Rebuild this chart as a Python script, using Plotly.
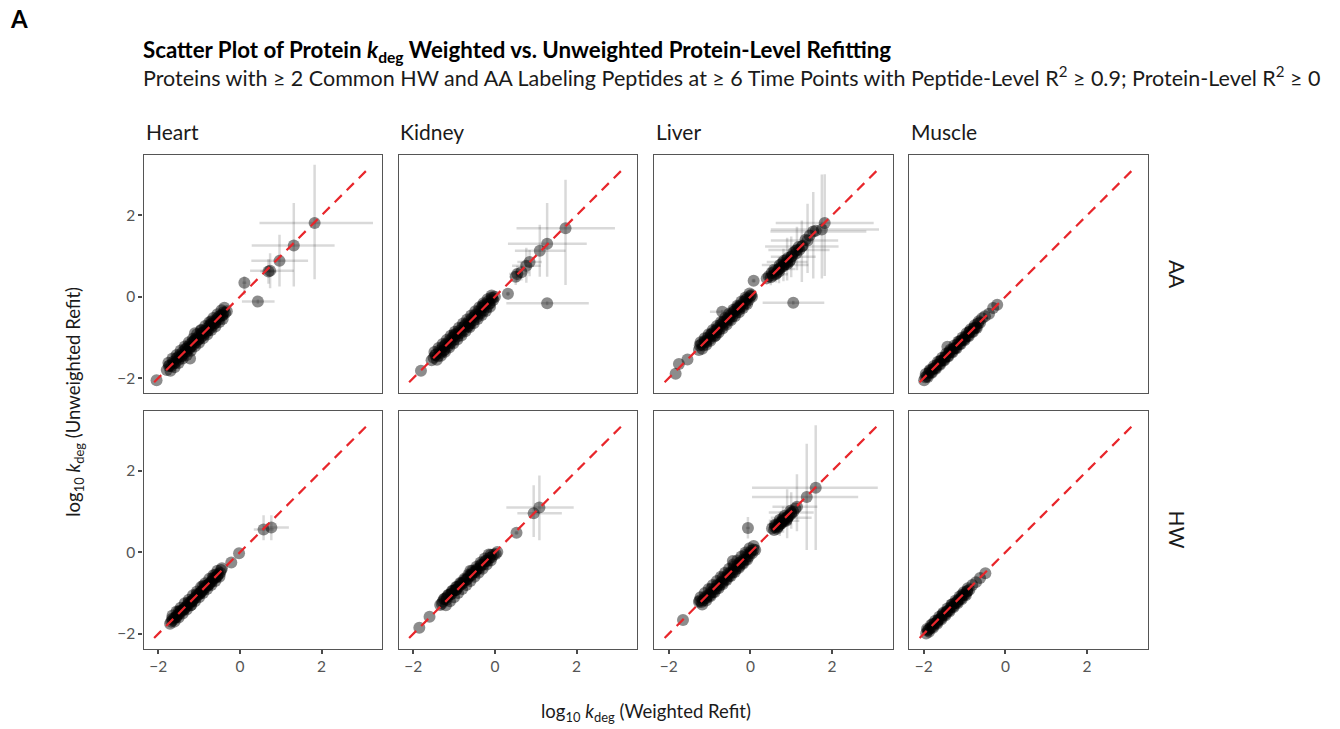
import plotly.graph_objects as go

organs = ["Heart", "Kidney", "Liver", "Muscle"]
labelings = ["AA", "HW"]
tick_vals = [-2, 0, 2]
axis_range = [-2.36, 3.48]
ref_line = [-2.1, 3.12]

# ---------------- Heart / AA ----------------
heart_aa_ox = [1.83, 1.32, 0.97, 0.74, 0.70, 0.11, 0.44]
heart_aa_oy = [1.81, 1.26, 0.88, 0.64, 0.62, 0.34, -0.12]
heart_aa_xm = [1.35, 1.03, 0.69, 0.49, 0.20, 0.05, 0.39]
heart_aa_xp = [1.43, 1.00, 0.70, 0.58, 0.20, 0.05, 0.41]
heart_aa_ym = [1.38, 1.01, 0.63, 0.43, 0.30, 0.29, 0.05]
heart_aa_yp = [1.43, 1.04, 0.64, 0.43, 0.30, 0.16, 0.05]
heart_aa_cx = [-2.04, -1.79, -1.74, -1.68, -1.63, -1.58, -1.55, -1.50, -1.47, -1.43, -1.40, -1.36, -1.33, -1.30,
               -1.27, -1.24, -1.22, -1.19, -1.16, -1.13, -1.10, -1.08, -1.05, -1.02, -0.99, -0.96, -0.93, -0.90,
               -0.87, -0.84, -0.81, -0.78, -0.75, -0.72, -0.69, -0.66, -0.63, -0.60, -0.56, -0.52, -0.48, -0.44,
               -0.40, -0.36, -0.32, -1.22, -1.10, -0.95, -0.70,
               -1.75, -1.65, -1.55, -1.45, -1.35, -1.25, -1.15, -1.05, -0.95, -0.85, -0.75, -0.65, -0.55, -0.45,
               -0.38, -1.70, -1.60, -1.50, -1.40, -1.30, -1.20, -1.10, -1.00, -0.90, -0.80, -0.70, -0.60, -0.50,
               -0.42,
               -1.72, -1.62, -1.52, -1.42, -1.32, -1.22, -1.12, -1.02, -0.92, -0.82, -0.72, -0.62, -0.52, -0.42]
heart_aa_cy = [-2.05, -1.80, -1.70, -1.71, -1.60, -1.62, -1.52, -1.55, -1.43, -1.47, -1.36, -1.39, -1.28, -1.34,
               -1.23, -1.28, -1.17, -1.22, -1.12, -1.17, -1.06, -1.12, -1.01, -1.06, -0.95, -1.00, -0.89, -0.95,
               -0.84, -0.89, -0.78, -0.83, -0.72, -0.77, -0.66, -0.70, -0.60, -0.64, -0.54, -0.56, -0.46, -0.47,
               -0.38, -0.40, -0.36, -1.52, -0.90, -0.82, -0.60,
               -1.62, -1.52, -1.43, -1.32, -1.22, -1.12, -1.03, -0.92, -0.83, -0.72, -0.63, -0.52, -0.43, -0.33,
               -0.27, -1.82, -1.73, -1.63, -1.52, -1.43, -1.33, -1.22, -1.13, -1.02, -0.93, -0.82, -0.73, -0.62,
               -0.55,
               -1.69, -1.64, -1.49, -1.45, -1.29, -1.25, -1.09, -1.05, -0.89, -0.85, -0.69, -0.65, -0.49, -0.45]

# ---------------- Heart / HW ----------------
heart_hw_ox = [0.58, 0.77]
heart_hw_oy = [0.56, 0.61]
heart_hw_xm = [0.24, 0.20]
heart_hw_xp = [0.25, 0.43]
heart_hw_ym = [0.26, 0.31]
heart_hw_yp = [0.35, 0.30]
heart_hw_cx = [-0.02, -0.21, -0.44, -0.48, -0.52, -0.56, -0.60, -0.64, -0.68, -0.72, -0.76, -0.80, -0.84, -0.88,
               -0.92, -0.96, -1.00, -1.04, -1.08, -1.12, -1.16, -1.20, -1.24, -1.28, -1.32, -1.36, -1.40, -1.44,
               -1.48, -1.52, -1.56, -1.60, -1.64, -1.68, -1.71, -0.90, -1.20, -0.60, -1.50,
               -1.65, -1.55, -1.45, -1.35, -1.25, -1.15, -1.05, -0.95, -0.85, -0.75, -0.65, -0.55,
               -1.60, -1.50, -1.40, -1.30, -1.20, -1.10, -1.00, -0.90, -0.80, -0.70, -0.60, -0.50,
               -1.66, -1.56, -1.46, -1.36, -1.26, -1.16, -1.06, -0.96, -0.86, -0.76, -0.66, -0.56, -0.46]
heart_hw_cy = [-0.02, -0.25, -0.39, -0.50, -0.53, -0.58, -0.62, -0.65, -0.70, -0.73, -0.78, -0.81, -0.86, -0.89,
               -0.94, -0.97, -1.02, -1.05, -1.10, -1.13, -1.18, -1.21, -1.26, -1.29, -1.34, -1.37, -1.42, -1.45,
               -1.50, -1.53, -1.58, -1.61, -1.66, -1.70, -1.75, -0.82, -1.30, -0.55, -1.45,
               -1.55, -1.45, -1.36, -1.25, -1.16, -1.05, -0.96, -0.85, -0.76, -0.65, -0.56, -0.45,
               -1.70, -1.60, -1.50, -1.40, -1.30, -1.20, -1.10, -1.00, -0.90, -0.80, -0.70, -0.60,
               -1.63, -1.59, -1.43, -1.39, -1.23, -1.19, -1.03, -0.99, -0.83, -0.79, -0.63, -0.59, -0.43]

# ---------------- Kidney / AA ----------------
kidney_aa_ox = [1.73, 1.28, 1.10, 0.77, 0.85, 0.65, 0.51, 0.55, 0.32, 1.28]
kidney_aa_oy = [1.68, 1.30, 1.13, 0.76, 0.85, 0.60, 0.49, 0.56, 0.07, -0.16]
kidney_aa_xm = [1.20, 0.96, 0.61, 0.35, 0.30, 0.20, 0.15, 0.20, 0.05, 1.00]
kidney_aa_xp = [1.21, 0.97, 0.63, 0.35, 0.30, 0.20, 0.15, 0.20, 0.05, 1.02]
kidney_aa_ym = [1.39, 0.81, 0.64, 0.42, 0.35, 0.20, 0.20, 0.20, 0.05, 0.05]
kidney_aa_yp = [1.19, 1.00, 0.64, 0.44, 0.30, 0.25, 0.20, 0.20, 0.05, 0.05]
kidney_aa_cx = [0.00, -0.04, -0.08, -0.12, -0.16, -0.20, -0.24, -0.28, -0.32, -0.36, -0.40, -0.44, -0.48, -0.52,
                -0.56, -0.60, -0.64, -0.68, -0.72, -0.76, -0.80, -0.84, -0.88, -0.92, -0.96, -1.00, -1.04, -1.08,
                -1.12, -1.16, -1.20, -1.24, -1.28, -1.32, -1.36, -1.40, -1.45, -1.50, -1.55, -1.81, -0.30, -0.65,
                -1.00, -1.25,
                -1.48, -1.38, -1.28, -1.18, -1.08, -0.98, -0.88, -0.78, -0.68, -0.58, -0.48, -0.38, -0.28, -0.18,
                -0.08, -1.42, -1.32, -1.22, -1.12, -1.02, -0.92, -0.82, -0.72, -0.62, -0.52, -0.42, -0.32, -0.22,
                -0.12,
                -1.46, -1.34, -1.22, -1.10, -0.98, -0.86, -0.74, -0.62, -0.50, -0.38, -0.26, -0.14, -0.06]
kidney_aa_cy = [0.00, -0.08, -0.02, -0.17, -0.11, -0.26, -0.19, -0.34, -0.28, -0.42, -0.36, -0.50, -0.44, -0.58,
                -0.52, -0.66, -0.60, -0.74, -0.68, -0.82, -0.76, -0.90, -0.84, -0.98, -0.92, -1.06, -1.00, -1.14,
                -1.08, -1.22, -1.16, -1.30, -1.24, -1.38, -1.32, -1.46, -1.42, -1.50, -1.56, -1.82, -0.22, -0.72,
                -0.93, -1.32,
                -1.36, -1.26, -1.16, -1.06, -0.96, -0.86, -0.76, -0.66, -0.56, -0.46, -0.36, -0.26, -0.16, -0.06,
                0.03, -1.55, -1.45, -1.35, -1.25, -1.15, -1.05, -0.95, -0.85, -0.75, -0.65, -0.55, -0.45, -0.35,
                -0.25,
                -1.44, -1.36, -1.20, -1.12, -0.96, -0.88, -0.72, -0.64, -0.48, -0.40, -0.24, -0.16, -0.04]

# ---------------- Kidney / HW ----------------
kidney_hw_ox = [1.09, 0.95, 0.53]
kidney_hw_oy = [1.10, 0.96, 0.48]
kidney_hw_xm = [0.81, 0.40, 0.05]
kidney_hw_xp = [0.84, 0.69, 0.05]
kidney_hw_ym = [0.80, 0.58, 0.05]
kidney_hw_yp = [0.79, 0.69, 0.05]
kidney_hw_cx = [0.06, 0.02, -0.03, -0.08, -0.13, -0.18, -0.23, -0.28, -0.33, -0.38, -0.43, -0.48, -0.53, -0.58,
                -0.63, -0.68, -0.73, -0.78, -0.83, -0.88, -0.93, -0.98, -1.03, -1.08, -1.13, -1.18, -1.23, -1.28,
                -1.34, -1.60, -1.85, -0.60, -0.95,
                -1.25, -1.15, -1.05, -0.95, -0.85, -0.75, -0.65, -0.55, -0.45, -0.35, -0.25, -0.15,
                -1.20, -1.10, -1.00, -0.90, -0.80, -0.70, -0.60, -0.50, -0.40, -0.30, -0.20, -0.10,
                -1.30, -1.18, -1.06, -0.94, -0.82, -0.70, -0.58, -0.46, -0.34, -0.22, -0.10]
kidney_hw_cy = [0.01, -0.04, -0.05, -0.12, -0.13, -0.21, -0.22, -0.30, -0.31, -0.39, -0.40, -0.48, -0.49, -0.57,
                -0.58, -0.66, -0.67, -0.75, -0.76, -0.84, -0.85, -0.93, -0.94, -1.02, -1.04, -1.11, -1.14, -1.21,
                -1.29, -1.58, -1.85, -0.45, -0.92,
                -1.15, -1.05, -0.95, -0.85, -0.75, -0.65, -0.55, -0.45, -0.35, -0.25, -0.15, -0.05,
                -1.30, -1.20, -1.10, -1.00, -0.90, -0.80, -0.70, -0.60, -0.50, -0.40, -0.30, -0.20,
                -1.26, -1.16, -1.02, -0.92, -0.78, -0.68, -0.54, -0.44, -0.30, -0.20, -0.06]

# ---------------- Liver / AA ----------------
liver_aa_ox = [1.82, 1.75, 1.54, 1.40, 1.26, 1.14, 1.00, 0.90, 0.81, 0.70, 0.62, 0.50, 1.05, 0.08, -0.69]
liver_aa_oy = [1.81, 1.65, 1.60, 1.38, 1.23, 1.15, 0.98, 0.85, 0.78, 0.68, 0.55, 0.48, -0.15, 0.39, -0.37]
liver_aa_xm = [1.20, 1.25, 1.05, 0.90, 0.90, 0.70, 0.50, 0.50, 0.53, 0.30, 0.25, 0.15, 0.75, 0.05, 0.30]
liver_aa_xp = [1.20, 1.40, 1.30, 0.75, 0.90, 0.80, 0.60, 0.50, 0.61, 0.40, 0.30, 0.20, 0.76, 0.05, 0.40]
liver_aa_ym = [1.30, 1.20, 1.15, 0.80, 0.87, 0.50, 0.50, 0.45, 0.40, 0.35, 0.20, 0.20, 0.05, 0.05, 0.05]
liver_aa_yp = [1.20, 1.35, 0.97, 0.90, 0.64, 0.57, 0.50, 0.60, 0.40, 0.30, 0.30, 0.20, 0.05, 0.05, 0.05]
liver_aa_cx = [0.04, 0.00, -0.04, -0.08, -0.12, -0.16, -0.20, -0.24, -0.28, -0.32, -0.36, -0.40, -0.44, -0.48,
               -0.52, -0.56, -0.60, -0.64, -0.68, -0.72, -0.76, -0.80, -0.84, -0.88, -0.92, -0.96, -1.00, -1.04,
               -1.08, -1.12, -1.16, -1.20, -1.26, -1.54, -1.75, -1.83, -0.30, -0.85,
               0.45, 0.55, 0.60, 0.68, 0.75, 0.78, 0.85, 0.92, 0.98, 1.05, 1.12, 1.18, 1.28, 1.35, 1.60,
               -1.22, -1.12, -1.02, -0.92, -0.82, -0.72, -0.62, -0.52, -0.42, -0.32, -0.22, -0.12, -0.02,
               -1.18, -1.08, -0.98, -0.88, -0.78, -0.68, -0.58, -0.48, -0.38, -0.28, -0.18, -0.08,
               0.40, 0.52, 0.64, 0.72, 0.80, 0.88, 0.95, 1.02, 1.10, 0.70, 0.82, 0.90, 1.20, 0.58, 1.45,
               -1.24, -1.10, -0.96, -0.82, -0.68, -0.54, -0.40, -0.26, -0.12, 0.02]
liver_aa_cy = [0.00, 0.02, -0.08, -0.05, -0.16, -0.13, -0.24, -0.21, -0.32, -0.29, -0.40, -0.37, -0.48, -0.45,
               -0.56, -0.53, -0.64, -0.61, -0.72, -0.69, -0.80, -0.77, -0.88, -0.85, -0.96, -0.93, -1.04, -1.01,
               -1.12, -1.09, -1.20, -1.17, -1.31, -1.54, -1.65, -1.89, -0.25, -0.95,
               0.50, 0.52, 0.63, 0.66, 0.72, 0.82, 0.80, 0.95, 0.90, 1.08, 1.06, 1.22, 1.25, 1.40, 1.62,
               -1.12, -1.02, -0.92, -0.82, -0.72, -0.62, -0.52, -0.42, -0.32, -0.22, -0.12, -0.02, 0.08,
               -1.28, -1.18, -1.08, -0.98, -0.88, -0.78, -0.68, -0.58, -0.48, -0.38, -0.28, -0.18,
               0.45, 0.58, 0.58, 0.78, 0.74, 0.90, 0.86, 1.00, 1.12, 0.62, 0.88, 0.80, 1.15, 0.66, 1.50,
               -1.20, -1.10, -0.92, -0.82, -0.64, -0.54, -0.36, -0.26, -0.08, 0.04]

# ---------------- Liver / HW ----------------
liver_hw_ox = [1.60, 1.38, 1.14, 1.00, 0.90, 0.80, 0.72, 0.60, -0.06]
liver_hw_oy = [1.59, 1.36, 1.12, 0.98, 0.85, 0.78, 0.70, 0.62, 0.60]
liver_hw_xm = [1.56, 1.34, 0.60, 0.55, 0.40, 0.35, 0.30, 0.15, 0.05]
liver_hw_xp = [1.52, 1.26, 0.50, 0.55, 0.60, 0.40, 0.30, 0.15, 0.05]
liver_hw_ym = [1.53, 1.30, 0.60, 0.40, 0.50, 0.30, 0.30, 0.15, 0.26]
liver_hw_yp = [1.53, 1.31, 0.80, 0.50, 0.70, 0.35, 0.30, 0.15, 0.27]
liver_hw_cx = [0.12, 0.08, 0.04, 0.00, -0.04, -0.08, -0.12, -0.16, -0.20, -0.24, -0.28, -0.32, -0.36, -0.40,
               -0.44, -0.48, -0.52, -0.56, -0.60, -0.64, -0.68, -0.72, -0.76, -0.80, -0.84, -0.88, -0.92, -0.96,
               -1.00, -1.04, -1.08, -1.12, -1.16, -1.20, -1.26, -1.65, -0.43,
               0.53, 0.58, 0.62, 0.66, 0.70, 0.74, 0.78, 0.82, 0.86, 0.90, 0.95, 1.00, 1.05, 1.10,
               -1.22, -1.12, -1.02, -0.92, -0.82, -0.72, -0.62, -0.52, -0.42, -0.32, -0.22, -0.12, -0.02, 0.08,
               -1.18, -1.08, -0.98, -0.88, -0.78, -0.68, -0.58, -0.48, -0.38, -0.28, -0.18, -0.08,
               0.60, 0.68, 0.76, 0.84, 0.92, 0.98, 0.72, 0.80, 0.88, 0.65,
               -1.24, -1.10, -0.96, -0.82, -0.68, -0.54, -0.40, -0.26, -0.12, 0.02]
liver_hw_cy = [0.06, 0.07, -0.02, -0.01, -0.10, -0.09, -0.18, -0.17, -0.26, -0.25, -0.34, -0.33, -0.42, -0.41,
               -0.50, -0.49, -0.58, -0.57, -0.66, -0.65, -0.74, -0.73, -0.82, -0.81, -0.90, -0.89, -0.98, -0.97,
               -1.06, -1.05, -1.12, -1.13, -1.18, -1.22, -1.21, -1.66, -0.21,
               0.59, 0.55, 0.66, 0.62, 0.72, 0.70, 0.78, 0.76, 0.84, 0.82, 0.90, 0.95, 1.00, 1.08,
               -1.10, -1.00, -0.90, -0.80, -0.70, -0.60, -0.50, -0.40, -0.30, -0.20, -0.10, 0.00, 0.10, 0.16,
               -1.28, -1.18, -1.08, -0.98, -0.88, -0.78, -0.68, -0.58, -0.48, -0.38, -0.28, -0.18,
               0.68, 0.64, 0.72, 0.90, 0.88, 1.02, 0.80, 0.84, 0.78, 0.58,
               -1.18, -1.08, -0.90, -0.80, -0.62, -0.52, -0.34, -0.24, -0.06, 0.04]

# ---------------- Muscle / AA ----------------
muscle_aa_ox = []
muscle_aa_oy = []
muscle_aa_xm = []
muscle_aa_xp = []
muscle_aa_ym = []
muscle_aa_yp = []
muscle_aa_cx = [-0.20, -0.30, -0.40, -0.50, -0.57, -0.62, -0.67, -0.72, -0.77, -0.82, -0.87, -0.92, -0.97, -1.02,
                -1.07, -1.12, -1.17, -1.22, -1.27, -1.32, -1.37, -1.42, -1.47, -1.52, -1.57, -1.62, -1.67, -1.72,
                -1.77, -1.82, -1.87, -1.92, -1.99, -1.42,
                -1.95, -1.85, -1.75, -1.65, -1.55, -1.45, -1.35, -1.25, -1.15, -1.05, -0.95, -0.85, -0.75, -0.65,
                -1.90, -1.80, -1.70, -1.60, -1.50, -1.40, -1.30, -1.20, -1.10, -1.00, -0.90, -0.80, -0.70,
                -1.96, -1.84, -1.72, -1.60, -1.48, -1.36, -1.24, -1.12, -1.00, -0.88, -0.76]
muscle_aa_cy = [-0.20, -0.28, -0.42, -0.48, -0.53, -0.64, -0.66, -0.75, -0.76, -0.86, -0.86, -0.96, -0.97, -1.06,
                -1.07, -1.16, -1.17, -1.26, -1.27, -1.36, -1.37, -1.46, -1.47, -1.56, -1.57, -1.66, -1.67, -1.76,
                -1.77, -1.86, -1.87, -1.95, -2.05, -1.23,
                -1.90, -1.80, -1.70, -1.60, -1.50, -1.40, -1.30, -1.20, -1.10, -1.00, -0.90, -0.80, -0.70, -0.60,
                -1.97, -1.87, -1.77, -1.67, -1.57, -1.47, -1.37, -1.27, -1.17, -1.07, -0.97, -0.87, -0.77,
                -1.98, -1.82, -1.74, -1.58, -1.50, -1.34, -1.26, -1.10, -1.02, -0.86, -0.78]

# ---------------- Muscle / HW ----------------
muscle_hw_ox = []
muscle_hw_oy = []
muscle_hw_xm = []
muscle_hw_xp = []
muscle_hw_ym = []
muscle_hw_yp = []
muscle_hw_cx = [-0.49, -0.62, -0.72, -0.81, -0.88, -0.93, -0.98, -1.03, -1.08, -1.13, -1.18, -1.23, -1.28, -1.33,
                -1.38, -1.43, -1.48, -1.53, -1.58, -1.63, -1.68, -1.73, -1.78, -1.83, -1.88, -1.94,
                -1.92, -1.82, -1.72, -1.62, -1.52, -1.42, -1.32, -1.22, -1.12, -1.02, -0.92,
                -1.87, -1.77, -1.67, -1.57, -1.47, -1.37, -1.27, -1.17, -1.07, -0.97,
                -1.90, -1.78, -1.66, -1.54, -1.42, -1.30, -1.18, -1.06, -0.94]
muscle_hw_cy = [-0.51, -0.63, -0.73, -0.80, -0.92, -0.95, -1.02, -1.05, -1.12, -1.15, -1.22, -1.25, -1.32, -1.35,
                -1.42, -1.45, -1.52, -1.55, -1.62, -1.65, -1.72, -1.75, -1.82, -1.85, -1.90, -1.99,
                -1.88, -1.78, -1.68, -1.58, -1.48, -1.38, -1.28, -1.18, -1.08, -0.98, -0.88,
                -1.95, -1.85, -1.75, -1.65, -1.55, -1.45, -1.35, -1.25, -1.15, -1.05,
                -1.92, -1.76, -1.68, -1.52, -1.44, -1.28, -1.20, -1.04, -0.96]

panels = {
    ("AA", "Heart"): (heart_aa_ox, heart_aa_oy, heart_aa_xm, heart_aa_xp, heart_aa_ym, heart_aa_yp, heart_aa_cx, heart_aa_cy),
    ("HW", "Heart"): (heart_hw_ox, heart_hw_oy, heart_hw_xm, heart_hw_xp, heart_hw_ym, heart_hw_yp, heart_hw_cx, heart_hw_cy),
    ("AA", "Kidney"): (kidney_aa_ox, kidney_aa_oy, kidney_aa_xm, kidney_aa_xp, kidney_aa_ym, kidney_aa_yp, kidney_aa_cx, kidney_aa_cy),
    ("HW", "Kidney"): (kidney_hw_ox, kidney_hw_oy, kidney_hw_xm, kidney_hw_xp, kidney_hw_ym, kidney_hw_yp, kidney_hw_cx, kidney_hw_cy),
    ("AA", "Liver"): (liver_aa_ox, liver_aa_oy, liver_aa_xm, liver_aa_xp, liver_aa_ym, liver_aa_yp, liver_aa_cx, liver_aa_cy),
    ("HW", "Liver"): (liver_hw_ox, liver_hw_oy, liver_hw_xm, liver_hw_xp, liver_hw_ym, liver_hw_yp, liver_hw_cx, liver_hw_cy),
    ("AA", "Muscle"): (muscle_aa_ox, muscle_aa_oy, muscle_aa_xm, muscle_aa_xp, muscle_aa_ym, muscle_aa_yp, muscle_aa_cx, muscle_aa_cy),
    ("HW", "Muscle"): (muscle_hw_ox, muscle_hw_oy, muscle_hw_xm, muscle_hw_xp, muscle_hw_ym, muscle_hw_yp, muscle_hw_cx, muscle_hw_cy),
}

# ---------------- layout geometry (pixels) ----------------
W, H = 1340, 729
FONT = "Lato"
col_left = [143.5, 398.5, 654.0, 909.0]
panel_w = 238.5
row_top = [155.0, 410.7]
panel_h = 237.8

POINT_COLOR = "rgba(0,0,0,0.45)"
ERR_COLOR = "rgba(0,0,0,0.15)"
LINE_RED = "#E8262B"
FRAME = "#555555"

fig = go.Figure()
layout = dict(
    width=W, height=H, autosize=False,
    margin=dict(l=0, r=0, t=0, b=0),
    paper_bgcolor="white", plot_bgcolor="white",
    showlegend=False,
    font=dict(family=FONT, color="#222222"),
)

for r, lab in enumerate(labelings):
    for c, org in enumerate(organs):
        n = r * 4 + c + 1
        xs = "x" if n == 1 else f"x{n}"
        ys = "y" if n == 1 else f"y{n}"
        ox, oy, xm, xp, ym, yp, cx, cy = panels[(lab, org)]
        if ox:
            fig.add_trace(go.Scatter(
                x=ox, y=oy, mode="markers", xaxis=xs, yaxis=ys, hoverinfo="skip",
                marker=dict(size=12, color=POINT_COLOR, line=dict(width=0)),
                error_x=dict(type="data", symmetric=False, array=xp, arrayminus=xm,
                             color=ERR_COLOR, thickness=2.5, width=0),
                error_y=dict(type="data", symmetric=False, array=yp, arrayminus=ym,
                             color=ERR_COLOR, thickness=2.5, width=0),
            ))
        fig.add_trace(go.Scatter(
            x=cx, y=cy, mode="markers", xaxis=xs, yaxis=ys, hoverinfo="skip",
            marker=dict(size=12, color=POINT_COLOR, line=dict(width=0)),
        ))
        fig.add_trace(go.Scatter(
            x=ref_line, y=ref_line, mode="lines", xaxis=xs, yaxis=ys, hoverinfo="skip",
            line=dict(color=LINE_RED, width=2.2, dash="10px,7px"),
        ))

        x0 = col_left[c] / W
        x1 = (col_left[c] + panel_w) / W
        y1 = 1 - row_top[r] / H
        y0 = 1 - (row_top[r] + panel_h) / H
        bottom = (r == len(labelings) - 1)
        left = (c == 0)
        layout[f"xaxis{'' if n == 1 else n}"] = dict(
            domain=[x0, x1], range=axis_range, anchor=ys,
            showline=True, mirror=True, linecolor=FRAME, linewidth=1.4,
            showgrid=False, zeroline=False, tickvals=tick_vals,
            ticks="outside" if bottom else "", ticklen=4, tickwidth=1.6, tickcolor="#4a4a4a",
            showticklabels=bottom, tickfont=dict(family=FONT, size=15.5, color="#555555"),
        )
        layout[f"yaxis{'' if n == 1 else n}"] = dict(
            domain=[y0, y1], range=axis_range, anchor=xs,
            showline=True, mirror=True, linecolor=FRAME, linewidth=1.4,
            showgrid=False, zeroline=False, tickvals=tick_vals,
            ticks="outside" if left else "", ticklen=4, tickwidth=1.6, tickcolor="#4a4a4a",
            showticklabels=left, tickfont=dict(family=FONT, size=15.5, color="#555555"),
        )

annotations = []
# panel letter
annotations.append(dict(text="<b>A</b>", x=8 / W, y=1 - 18 / H, xref="paper", yref="paper",
                        xanchor="left", yanchor="middle", showarrow=False,
                        font=dict(family=FONT, size=24, color="black")))
# title and subtitle
annotations.append(dict(text="<b>Scatter Plot of Protein <i>k</i><sub>deg</sub> Weighted vs. Unweighted Protein-Level Refitting</b>",
                        x=141 / W, y=1 - 51 / H, xref="paper", yref="paper",
                        xanchor="left", yanchor="middle", showarrow=False,
                        font=dict(family=FONT, size=22.3, color="black")))
annotations.append(dict(text="Proteins with ≥ 2 Common HW and AA Labeling Peptides at ≥ 6 Time Points with Peptide-Level R<sup>2</sup> ≥ 0.9; Protein-Level R<sup>2</sup> ≥ 0",
                        x=141 / W, y=1 - 76 / H, xref="paper", yref="paper",
                        xanchor="left", yanchor="middle", showarrow=False,
                        font=dict(family=FONT, size=21.5, color="#1a1a1a")))
# column strips
for c, org in enumerate(organs):
    annotations.append(dict(text=org, x=col_left[c] / W, y=1 - 131 / H, xref="paper", yref="paper",
                            xanchor="left", yanchor="middle", showarrow=False,
                            font=dict(family=FONT, size=21, color="#1a1a1a")))
# row strips
for r, lab in enumerate(labelings):
    annotations.append(dict(text=lab, x=1177 / W, y=1 - (row_top[r] + panel_h / 2) / H,
                            xref="paper", yref="paper", xanchor="center", yanchor="middle",
                            textangle=90, showarrow=False,
                            font=dict(family=FONT, size=21, color="#1a1a1a")))
# axis titles
annotations.append(dict(text="log<sub>10</sub> <i>k</i><sub>deg</sub> (Weighted Refit)",
                        x=(col_left[0] + col_left[3] + panel_w) / 2 / W, y=1 - 712 / H,
                        xref="paper", yref="paper", xanchor="center", yanchor="middle", showarrow=False,
                        font=dict(family=FONT, size=18.5, color="#1a1a1a")))
annotations.append(dict(text="log<sub>10</sub> <i>k</i><sub>deg</sub> (Unweighted Refit)",
                        x=75 / W, y=1 - (row_top[0] + row_top[1] + panel_h) / 2 / H,
                        xref="paper", yref="paper", xanchor="center", yanchor="middle",
                        textangle=-90, showarrow=False,
                        font=dict(family=FONT, size=18.5, color="#1a1a1a")))

layout["annotations"] = annotations
fig.update_layout(**layout)
fig.write_html("out.html")
